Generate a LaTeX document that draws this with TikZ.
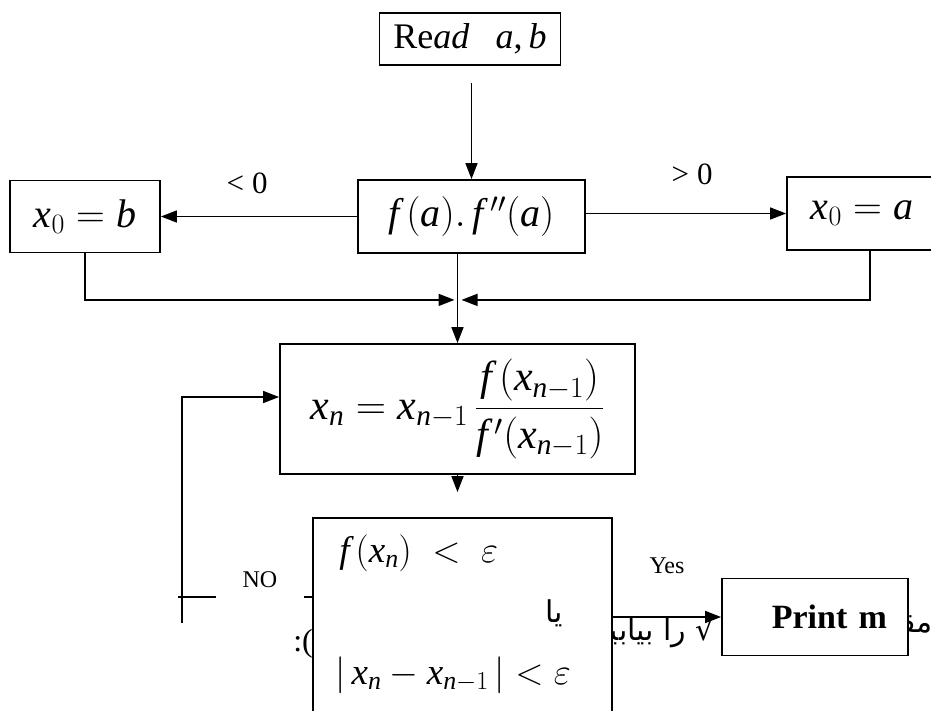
\RequirePackage{fix-cm}
\documentclass[tikz,border=0pt]{standalone}
\usepackage{amsmath}
\usepackage{fontspec}
\setmainfont{Liberation Serif}[ItalicFont={Liberation Serif Italic},BoldFont={Liberation Serif Bold}]
\newfontfamily\farsifont[Script=Arabic]{DejaVu Sans}
\TeXXeTstate=1
\newcommand\mi[1]{\textit{#1}}
\usetikzlibrary{arrows.meta,backgrounds}
\tikzset{
  box/.style={rectangle,draw,line width=1.8pt,fill=white,inner sep=0pt},
  arrow/.style={-{Triangle[length=16pt,width=12pt]},line width=1.6pt},
  link/.style={line width=1.6pt},
  bigmath/.style={font=\fontsize{40}{46}\selectfont},
  cmplabel/.style={font=\fontsize{31}{34}\selectfont,inner sep=0pt},
  answer/.style={font=\fontsize{24}{28}\selectfont,inner sep=0pt},
  farsi/.style={font=\farsifont\fontsize{30}{34}\selectfont,inner sep=0pt},
  condtext/.style={anchor=west,font=\fontsize{37}{40}\selectfont,inner sep=0pt}
}
\begin{document}
\begin{tikzpicture}[x=1pt,y=1pt,node distance=180pt]
\useasboundingbox (-470,-671) rectangle (461,39);
\node[box,minimum width=181pt,minimum height=52pt,font=\fontsize{36}{40}\selectfont] (read) {Re\mi{ad}\hspace{26pt}\mi{a},\,\mi{b}};
\node[box,below of=read,xshift=1.5pt,yshift=2.5pt,minimum width=227pt,minimum height=73pt,font=\fontsize{40}{44}\selectfont] (prod) {$\mi{f}\,(\mi{a}).\,\mi{f}\,''(\mi{a})$};
\node[box,left of=prod,xshift=-206.5pt,minimum width=150pt,minimum height=72pt,bigmath] (xb) {$\mi{x}_0=\mi{b}$};
\node[box,right of=prod,xshift=210.5pt,yshift=3pt,minimum width=150pt,minimum height=73pt,bigmath] (xa) {$\mi{x}_0=\mi{a}$};
\node[box,below of=prod,xshift=-14pt,yshift=-12.5pt,minimum width=355pt,minimum height=130pt,font=\fontsize{42}{48}\selectfont] (xn) {$\displaystyle \mi{x}_{\mi{n}}=\mi{x}_{\mi{n}-1}\,\frac{\mi{f}\,(\mi{x}_{\mi{n}-1})}{\mi{f}\,'(\mi{x}_{\mi{n}-1})}$};
\node[box,below of=xn,xshift=5pt,yshift=-28pt,minimum width=299pt,minimum height=198pt] (test) {};
\node[box,right of=test,xshift=172.5pt,minimum width=186pt,minimum height=77pt,inner xsep=21pt,text width=144pt,align=right,font=\fontsize{34}{40}\selectfont\bfseries] (print) {Print m};

\node[condtext] (cond1) at ([xshift=27pt,yshift=-36pt]test.north west) {$\mi{f}\,(\mi{x}_{\mi{n}})\;<\;\varepsilon$};
\node[farsi] (ya) at ([xshift=242pt,yshift=-96pt]test.north west) {\beginR یا\endR};
\node[condtext] (cond2) at ([xshift=23pt,yshift=-158pt]test.north west) {$|\,\mi{x}_{\mi{n}}-\mi{x}_{\mi{n}-1}\,|<\varepsilon$};

\draw[arrow,shorten <=17pt] (prod.north |- read.south) -- (prod.north);
\draw[arrow] (prod.west) -- node[cmplabel,above=22pt,pos=0.56] {<\hspace{8pt}0} (xb.east);
\draw[arrow] (prod.east |- xa.west) -- node[cmplabel,above=28pt,pos=0.53] {>\hspace{8pt}0} (xa.west);

\coordinate (join) at (xn.north |- prod.south);
\draw[arrow] (join) -- (xn.north);
\draw[arrow] (xb.south) |- ([xshift=-3pt,yshift=-46pt]join);
\draw[arrow] ([xshift=8pt]xa.south) |- ([xshift=4pt,yshift=-46pt]join);
\draw[arrow,shorten >=25pt] (xn.south) -- (xn.south |- test.north);
\draw[arrow] (test.east |- print.west) -- node[answer,above=42pt] {Yes} (print.west);

\coordinate[left of=test,xshift=-100.5pt,yshift=20pt] (noturn);
\node[answer,inner xsep=26pt] (no) at ([xshift=78pt,yshift=17pt]noturn) {NO};
\draw[link] (test.west |- noturn) -- (no.east |- noturn);
\draw[link] (no.west |- noturn) -- ([xshift=-4pt]noturn);
\draw[arrow] ([yshift=-26pt]noturn) |- ([yshift=12pt]xn.west);

\begin{scope}[on background layer]
\node[farsi,anchor=base east] (frag1) at ([xshift=-6pt,yshift=-23pt]print.west) {\beginR √ را بیابید\endR};
\node[farsi,anchor=base east] (frag2) at ([xshift=24pt,yshift=-15pt]print.east) {\beginR مقدار\endR};
\node[anchor=base east,inner sep=0pt,font=\fontsize{32}{36}\selectfont] (frag3) at ([xshift=1pt,yshift=-34pt]test.west) {:(};
\end{scope}
\end{tikzpicture}
\end{document}
